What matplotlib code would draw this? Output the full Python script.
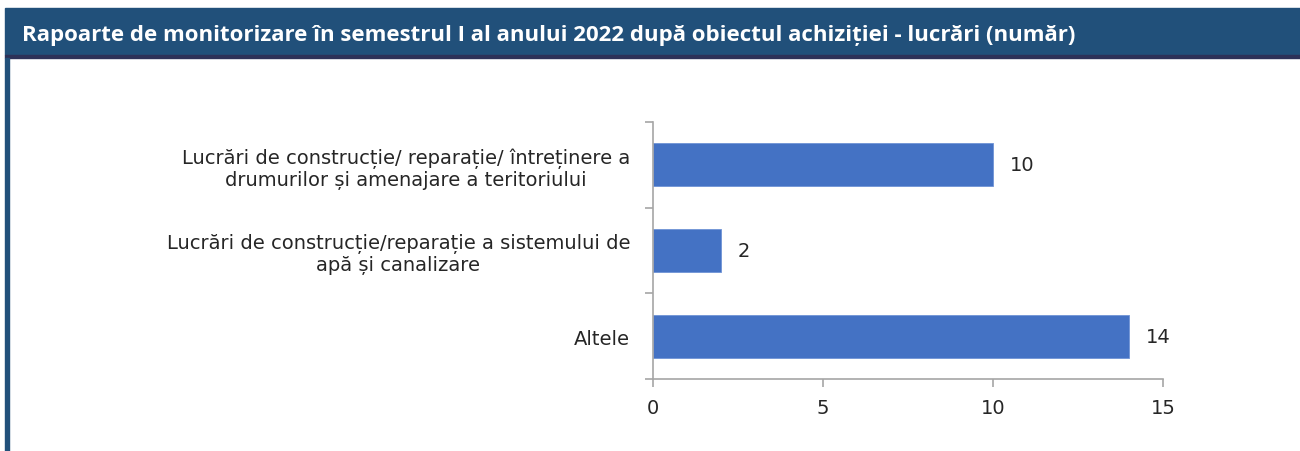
import matplotlib
matplotlib.use("Agg")
import matplotlib.pyplot as plt
from matplotlib.patches import Rectangle

# data
categories = [
    "Lucrări de construcție/ reparație/ întreținere a\ndrumurilor și amenajare a teritoriului",
    "Lucrări de construcție/reparație a sistemului de\napă și canalizare",
    "Altele",
]
values = [10, 2, 14]
x_ticks = [0, 5, 10, 15]
title = "Rapoarte de monitorizare în semestrul I al anului 2022 după obiectul achiziției - lucrări (număr)"

W, H = 1300, 452
fig = plt.figure(figsize=(W / 100, H / 100), dpi=100)
plt.rcParams["font.family"] = "DejaVu Sans"


def fx(px):
    return px / W


def fy(py):
    return 1 - py / H


# header band and frame
fig.patches.append(Rectangle((fx(5), fy(56)), fx(1300 - 5), fy(9) - fy(56),
                             transform=fig.transFigure, color="#21507a", zorder=0))
fig.patches.append(Rectangle((fx(5), fy(59)), fx(1300 - 5), fy(56) - fy(59),
                             transform=fig.transFigure, color="#2d3158", zorder=0))
fig.patches.append(Rectangle((fx(5), fy(452)), fx(4), fy(59) - fy(452),
                             transform=fig.transFigure, color="#21507a", zorder=0))
fig.text(fx(22), fy(36), title, color="white", fontsize=16, fontweight="bold",
         family="Open Sans", va="center", ha="left")

ax = fig.add_axes([fx(653), fy(380), fx(1163 - 653), fy(123) - fy(380)])
pos = list(range(len(categories)))
ax.barh(pos, values, height=0.5, color="#4472c4", edgecolor="#6f93d6", linewidth=0.6)
ax.set_ylim(2.5, -0.5)
ax.set_xlim(0, 15)
ax.set_xticks(x_ticks)
ax.set_xticklabels([str(t) for t in x_ticks])

ax.set_yticks([-0.5, 0.5, 1.5, 2.5])
ax.set_yticklabels([])
ax.set_yticks(pos, minor=True)
ax.set_yticklabels(categories, minor=True, ha="right", multialignment="center",
                   linespacing=1.15)
ax.tick_params(axis="y", which="minor", length=0, pad=16.5)
ax.tick_params(axis="y", which="major", length=6, color="#a6a6a6", width=1.2)
ax.tick_params(axis="x", length=6, color="#a6a6a6", width=1.2, pad=8)

for lbl in ax.get_yticklabels(minor=True) + ax.get_xticklabels():
    lbl.set_fontsize(14)
    lbl.set_color("#262626")
    lbl.set_family("DejaVu Sans")

for v, p in zip(values, pos):
    ax.text(v + 0.5, p, str(v), va="center", ha="left", fontsize=14,
            color="#262626", family="DejaVu Sans")

for s in ["top", "right"]:
    ax.spines[s].set_visible(False)
for s in ["left", "bottom"]:
    ax.spines[s].set_color("#a6a6a6")
    ax.spines[s].set_linewidth(1.2)

fig.savefig("out.png", dpi=100)
